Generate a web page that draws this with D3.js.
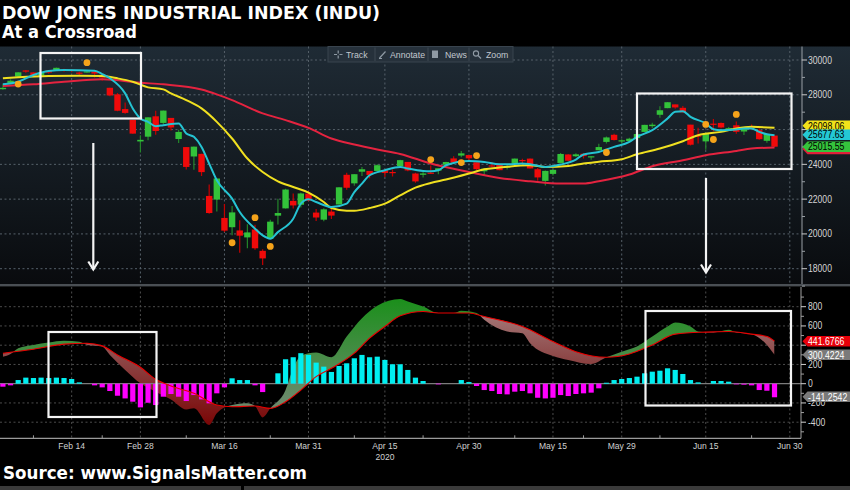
<!DOCTYPE html>
<html><head><meta charset="utf-8">
<script src="https://cdn.jsdelivr.net/npm/d3@7"></script>
<style>
html,body{margin:0;padding:0;background:#000;}
svg{display:block;}
</style></head>
<body>
<svg id="chart" width="850" height="490"></svg>
<script>
// ---------------- DATA ----------------
const dates = ["2/3","2/4","2/5","2/6","2/7","2/10","2/11","2/12","2/13","2/14","2/18","2/19","2/20","2/21","2/24","2/25","2/26","2/27","2/28",
"3/2","3/3","3/4","3/5","3/6","3/9","3/10","3/11","3/12","3/13","3/16","3/17","3/18","3/19","3/20","3/23","3/24","3/25","3/26","3/27","3/30","3/31",
"4/1","4/2","4/3","4/6","4/7","4/8","4/9","4/13","4/14","4/15","4/16","4/17","4/20","4/21","4/22","4/23","4/24","4/27","4/28","4/29","4/30",
"5/1","5/4","5/5","5/6","5/7","5/8","5/11","5/12","5/13","5/14","5/15","5/18","5/19","5/20","5/21","5/22","5/26","5/27","5/28","5/29",
"6/1","6/2","6/3","6/4","6/5","6/8","6/9","6/10","6/11","6/12","6/15","6/16","6/17","6/18","6/19","6/22","6/23","6/24","6/25","6/26"];
const extraAxisDates = ["6/29","6/30"];

const open = [28320,28660,29048,29400,29286,29095,29390,29406,29440,29440,29277,29279,29331,29149,28402,28025,27178,26553,25317,
25590,26763,26383,26671,25457,24992,24453,24604,22184,21973,20918,20385,20200,19800,20254,19028,19722,21050,21468,21899,21678,22320,
21227,20819,21285,21693,23399,22907,23577,23622,23620,23663,23560,23898,24140,23473,23400,23522,23640,23975,24341,24505,24535,
24121,23600,23940,23990,23850,24047,24250,24330,23720,23049,23452,24080,24569,24465,24610,24443,24810,25290,25700,25343,
25342,25512,25865,26197,26850,27232,27447,27251,26283,25659,25320,26340,26380,26022,26247,25888,26200,25965,25352,25654];
const high = [28630,28890,29310,29410,29290,29280,29415,29570,29490,29460,29330,29410,29370,29150,28402,28105,27560,26555,25680,
26706,27084,27102,26671,25995,24992,25020,24604,22838,23186,21725,21601,20780,20554,20531,19122,20814,22020,22596,22328,22378,22452,
21428,21477,21447,22680,23511,23434,23847,23622,24003,23663,23701,24264,24140,23511,23570,23935,23789,24154,24465,24765,24535,
24121,23759,24142,24021,23956,24335,24322,24330,23794,23640,23702,24659,24580,24636,24620,24467,25191,25600,25759,25444,
25530,25800,26270,26391,27339,27580,27447,27355,26283,26105,25826,26611,26400,26150,26468,26031,26291,26068,25762,25654];
const low = [28290,28630,29000,29260,29056,28990,29210,29406,29320,29300,29120,29270,29000,28800,27920,27058,26915,25766,24681,
25390,25707,26286,25943,25226,23707,23690,23328,21154,21286,20116,19921,18917,19178,19094,18214,19722,20538,21468,21455,21523,21878,
20736,20735,20863,21693,22543,22764,23332,23195,23620,23273,23298,23898,23599,22942,23237,23441,23426,23975,24094,24404,24206,
23644,23360,23834,23654,23701,24047,24074,23759,23053,22790,23360,24080,24198,24424,24341,24264,24810,25200,25368,25194,
25342,25447,25865,26088,26685,27232,27193,26972,25082,25193,24843,25905,26080,25918,25763,25687,26003,25416,25245,25001];
const close = [28400,28808,29291,29380,29103,29277,29276,29551,29423,29398,29232,29348,29220,28992,27961,27081,26958,25767,25409,
26703,25917,27091,26121,25865,23851,25018,23553,21201,23186,20189,21237,19899,20087,19174,18592,20705,21201,22552,21637,22327,21917,
20944,21413,21053,22680,22654,23434,23719,23391,23950,23504,23538,24242,23650,23019,23476,23515,23775,24134,24102,24634,24346,
23724,23750,23883,23665,23876,24331,24222,23765,23248,23625,23685,24597,24207,24576,24474,24465,24995,25548,25401,25383,
25475,25743,26270,26282,27111,27572,27272,26990,25128,25606,25763,26290,26120,26080,25871,26025,26156,25446,25746,25016];

// moving averages (cyan = 5d, yellow = 20d, red = 50d)
const ma5 = [["2/3",28599],["2/5",28749],["2/7",29135],["2/11",29366],["2/13",29424],["2/20",29383],["2/21",29193],["2/24",28950],["2/26",28081],["2/27",27216],["2/28",26640],["3/2",26444],["3/3",26196],["3/4",26253],["3/6",26351],["3/9",25775],["3/10",25580],["3/11",25003],["3/12",24046],["3/13",23083],["3/17",22029],["3/18",21256],["3/20",20300],["3/23",19913],["3/24",19723],["3/25",20103],["3/27",20876],["3/30",21740],["3/31",21988],["4/1",21832],["4/3",21544],["4/7",21740],["4/8",22409],["4/9",22893],["4/13",23371],["4/15",23660],["4/17",23850],["4/20",23758],["4/22",23619],["4/23",23602],["4/24",23660],["4/27",23948],["4/30",24196],["5/4",24138],["5/6",24006],["5/7",24006],["5/11",24046],["5/12",24006],["5/14",23850],["5/18",23988],["5/20",24276],["5/21",24565],["5/26",24714],["5/28",25003],["6/1",25291],["6/2",25579],["6/4",25965],["6/8",26640],["6/9",27020],["6/10",27060],["6/11",26732],["6/15",26351],["6/16",26023],["6/17",25965],["6/19",26006],["6/22",26063],["6/23",26063],["6/24",25867],["6/25",25735],["6/26",25678]];
const ma20 = [["2/3",28945],["2/5",29003],["2/11",29078],["2/18",29095],["2/21",29078],["2/25",28945],["2/27",28749],["3/2",28426],["3/4",28311],["3/5",28081],["3/9",27694],["3/11",27216],["3/13",26444],["3/17",25487],["3/19",24334],["3/23",23562],["3/25",23026],["3/27",22697],["3/31",22374],["4/2",21832],["4/3",21487],["4/7",21337],["4/8",21337],["4/13",21487],["4/15",21740],["4/17",22219],["4/21",22663],["4/23",22928],["4/27",23124],["4/30",23470],["5/4",23717],["5/6",23815],["5/12",23948],["5/14",23850],["5/19",23907],["5/21",24046],["5/26",24150],["5/29",24294],["6/2",24582],["6/5",24910],["6/10",25331],["6/12",25677],["6/17",25867],["6/19",26063],["6/23",26155],["6/26",26098]];
const ma50 = [["2/3",28501],["2/7",28599],["2/13",28749],["2/21",28888],["2/28",28692],["3/4",28599],["3/11",28300],["3/13",28023],["3/17",27694],["3/23",26928],["3/26",26542],["3/31",26098],["4/3",25487],["4/8",25141],["4/14",24853],["4/17",24599],["4/23",24046],["4/30",23562],["5/6",23216],["5/12",23026],["5/18",22893],["5/21",22893],["5/26",23026],["6/1",23412],["6/4",23890],["6/10",24236],["6/15",24524],["6/19",24772],["6/23",24910],["6/26",24968]];
const signalDots = [["2/5",28617],["2/19",29844],["3/17",19493],["3/20",20934],["3/24",19280],["4/23",24277],["4/29",24104],["5/1",24507],["5/27",24680],["6/15",26294],["6/16",25430],["6/19",26870]];

// MACD panel
const macdLine = [["2/3",281],["2/4",309],["2/5",369],["2/7",403],["2/11",427],["2/13",445],["2/18",435],["2/19",403],["2/21",386],["2/24",299],["2/26",143],["2/28",4],["3/3",-83],["3/5",-163],["3/9",-267],["3/10",-256],["3/12",-430],["3/13",-308],["3/17",-222],["3/19",-204],["3/20",-232],["3/23",-350],["3/24",-256],["3/26",-66],["3/27",160],["3/30",289],["4/1",323],["4/3",275],["4/7",490],["4/9",681],["4/14",810],["4/17",879],["4/20",854],["4/22",802],["4/24",734],["4/28",734],["4/29",758],["5/1",734],["5/4",664],["5/7",542],["5/11",525],["5/12",421],["5/15",289],["5/19",247],["5/22",205],["5/27",275],["5/29",333],["6/2",386],["6/4",490],["6/8",594],["6/9",636],["6/11",594],["6/12",542],["6/16",531],["6/18",560],["6/19",531],["6/23",515],["6/25",403],["6/26",300]];
const signalLine = [["2/3",317],["2/7",358],["2/13",411],["2/19",421],["2/21",393],["2/25",299],["2/28",171],["3/3",46],["3/5",-24],["3/10",-100],["3/13",-222],["3/17",-240],["3/20",-232],["3/24",-256],["3/26",-188],["3/30",-66],["4/1",73],["4/3",160],["4/8",317],["4/13",473],["4/15",594],["4/17",705],["4/22",750],["4/24",734],["4/30",734],["5/4",698],["5/11",594],["5/15",438],["5/20",333],["5/27",275],["6/1",309],["6/4",403],["6/9",515],["6/15",536],["6/18",542],["6/23",515],["6/25",490],["6/26",442]];
const histogram = [-31,-17,38,63,59,63,59,63,59,49,14,0,-17,-38,-76,-125,-153,-187,-246,-198,-222,-135,-107,-135,-180,-118,-163,-204,-100,-38,
56,38,38,-17,-87,0,108,254,275,317,299,219,177,122,184,212,264,299,275,281,247,202,202,143,63,28,0,-7,0,0,38,17,
-24,-66,-76,-107,-111,-83,-76,-100,-146,-153,-146,-118,-128,-107,-100,-93,-48,10,38,49,59,73,108,125,135,160,143,101,38,14,0,28,28,21,-7,-10,-17,-66,-73,-141];

const priceTicks = [18000,20000,22000,24000,26000,28000,30000];
const priceMinor = [17000,19000,21000,23000,25000,27000,29000];
const macdTicks = [-400,-200,0,200,400,600,800];
const macdTickLabels = ["-400","-200","0","200","","600","800"];
const dateTicks = ["2/14","2/28","3/16","3/31","4/15","4/30","5/15","5/29","6/15","6/30"];
const dateTickLabels = ["Feb 14","Feb 28","Mar 16","Mar 31","Apr 15","Apr 30","May 15","May 29","Jun 15","Jun 30"];
const minorDateTicks = ["2/7","2/21","3/9","3/24","4/8","4/22","5/8","5/21","6/5","6/23"];
const priceLabels = [{v:26098.06, t:"26098.06", fill:"#f2e21a", color:"#000", dy:-2},
                     {v:24968, t:"", fill:"#e0203a", color:"#000", dy:1.5},
                     {v:25677.63, t:"25677.63", fill:"#24c8d4", color:"#000", dy:-0.5},
                     {v:25015.55, t:"25015.55", fill:"#35c43c", color:"#000", dy:0}];
const macdLabels = [{v:441.6766, t:"441.6766", fill:"#e8000a"},
                    {v:300.4224, t:"300.4224", fill:"#7a7a7a"},
                    {v:-141.2542, t:"-141.2542", fill:"#7a7a7a"}];

// ---------------- SETUP ----------------
const svg = d3.select("#chart");
const W = 850, H = 490;
const axisX = 802;
const topY0 = 46.5, topY1 = 284;
const botY0 = 287, botY1 = 438.3;
const FONT = "Liberation Sans, Arial, sans-serif";

const x = d3.scalePoint().domain(dates.concat(extraAxisDates)).range([2.9, 789.8]);
const y = d3.scaleLinear().domain([18000, 30000]).range([268.7, 60]);
const ym = d3.scaleLinear().domain([-400, 800]).range([422.2, 306.7]);

// narrow the Bloomberg-style labels a little
function narrow(sel, f){
  sel.each(function(){
    const w = this.getComputedTextLength();
    if (w > 0) d3.select(this).attr("textLength", w*f).attr("lengthAdjust","spacingAndGlyphs");
  });
}

const defs = svg.append("defs");
const bg = defs.append("linearGradient").attr("id","bgTop").attr("x1",0).attr("y1",0).attr("x2",0).attr("y2",1);
bg.append("stop").attr("offset","0%").attr("stop-color","#1f2b35");
bg.append("stop").attr("offset","100%").attr("stop-color","#090b0e");
const gG = defs.append("linearGradient").attr("id","gGreen").attr("gradientUnits","userSpaceOnUse")
  .attr("x1",0).attr("y1",300).attr("x2",0).attr("y2",400);
gG.append("stop").attr("offset","0%").attr("stop-color","#1c8f1c");
gG.append("stop").attr("offset","100%").attr("stop-color","#6a8a6a");
const gR = defs.append("linearGradient").attr("id","gRed").attr("gradientUnits","userSpaceOnUse")
  .attr("x1",0).attr("y1",305).attr("x2",0).attr("y2",425);
gR.append("stop").attr("offset","0%").attr("stop-color","#a88080");
gR.append("stop").attr("offset","45%").attr("stop-color","#8c4646");
gR.append("stop").attr("offset","100%").attr("stop-color","#7a0606");

defs.append("clipPath").attr("id","clipTop").append("rect")
  .attr("x",0).attr("y",topY0).attr("width",axisX).attr("height",topY1-topY0);
defs.append("clipPath").attr("id","clipBot").append("rect")
  .attr("x",0).attr("y",botY0).attr("width",axisX-1).attr("height",botY1-botY0);

// background
svg.append("rect").attr("width",W).attr("height",H).attr("fill","#000");
svg.append("rect").attr("x",0).attr("y",topY0).attr("width",W).attr("height",topY1-topY0).attr("fill","url(#bgTop)");
svg.append("rect").attr("x",0).attr("y",topY1).attr("width",W).attr("height",2.4).attr("fill","#4a4f54");

// ---------------- GRID ----------------
const gridC = "#56616a";
const gTop = svg.append("g");
gTop.selectAll("line.h").data(priceTicks).join("line")
  .attr("x1",0).attr("x2",axisX).attr("y1",d=>y(d)).attr("y2",d=>y(d))
  .attr("stroke",gridC).attr("stroke-dasharray","2,2.5");
gTop.selectAll("line.v").data(dateTicks).join("line")
  .attr("x1",d=>x(d)).attr("x2",d=>x(d)).attr("y1",topY0).attr("y2",topY1)
  .attr("stroke",gridC).attr("stroke-dasharray","2,2.5");

const gBotGrid = svg.append("g");
gBotGrid.selectAll("line.h").data(macdTicks.filter(v=>v!==0)).join("line")
  .attr("x1",0).attr("x2",axisX-1).attr("y1",d=>ym(d)).attr("y2",d=>ym(d))
  .attr("stroke","#4c4c4c").attr("stroke-dasharray","2,2.5");
gBotGrid.selectAll("line.v").data(dateTicks).join("line")
  .attr("x1",d=>x(d)).attr("x2",d=>x(d)).attr("y1",botY0).attr("y2",botY1)
  .attr("stroke","#4c4c4c").attr("stroke-dasharray","2,2.5");

// ---------------- TOP PANEL ----------------
const plot = svg.append("g").attr("clip-path","url(#clipTop)");
const ohlc = dates.map((d,i)=>({d, o:open[i], h:high[i], l:low[i], c:close[i]}));
const up = "#33c23a", dn = "#f00a0a";
plot.selectAll("line.wick").data(ohlc).join("line")
  .attr("x1",d=>x(d.d)).attr("x2",d=>x(d.d))
  .attr("y1",d=>y(d.h)).attr("y2",d=>y(d.l))
  .attr("stroke",d=>d.c>=d.o?"#23862a":"#c40000").attr("stroke-width",1.2);
plot.selectAll("rect.body").data(ohlc).join("rect")
  .attr("x",d=>x(d.d)-3.2).attr("width",6.4)
  .attr("y",d=>y(Math.max(d.o,d.c)))
  .attr("height",d=>Math.max(1.2, Math.abs(y(d.o)-y(d.c))))
  .attr("fill",d=>d.c>=d.o?up:dn);

const line = d3.line().x(d=>x(d[0])).y(d=>y(d[1])).curve(d3.curveMonotoneX);
plot.append("path").attr("d",line(ma50)).attr("fill","none").attr("stroke","#e4233f").attr("stroke-width",2);
plot.append("path").attr("d",line(ma20)).attr("fill","none").attr("stroke","#f0e020").attr("stroke-width",2);
plot.append("path").attr("d",line(ma5)).attr("fill","none").attr("stroke","#25c3d2").attr("stroke-width",2);
plot.selectAll("circle.sig").data(signalDots).join("circle")
  .attr("cx",d=>x(d[0])).attr("cy",d=>y(d[1])).attr("r",3.4).attr("fill","#f5a31a");

// right axis (top)
svg.append("line").attr("x1",axisX).attr("x2",axisX).attr("y1",topY0).attr("y2",topY1).attr("stroke","#9aa0a6");
svg.selectAll("line.ptick").data(priceTicks).join("line")
  .attr("x1",axisX).attr("x2",axisX+5).attr("y1",d=>y(d)).attr("y2",d=>y(d)).attr("stroke","#c8c8c8");
svg.selectAll("line.pminor").data(priceMinor).join("line")
  .attr("x1",axisX).attr("x2",axisX+3).attr("y1",d=>y(d)).attr("y2",d=>y(d)).attr("stroke","#9aa0a6");
svg.selectAll("text.plab").data(priceTicks).join("text")
  .attr("x",axisX+6).attr("y",d=>y(d)).attr("dy","0.35em")
  .attr("font-family",FONT).attr("font-size",10)
  .attr("fill","#d4d4d4").text(d=>d).call(narrow, 0.86);

function tagPath(cy, h){
  const x0 = axisX+0.5, x1 = axisX+5.5, x2 = W+2;
  return `M${x0},${cy} L${x1},${cy-h/2} L${x2},${cy-h/2} L${x2},${cy+h/2} L${x1},${cy+h/2} Z`;
}
const tagG = svg.append("g");
priceLabels.forEach(p=>{
  const cy = y(p.v)+p.dy;
  tagG.append("path").attr("d",tagPath(cy,10.5)).attr("fill",p.fill);
  if(p.t) tagG.append("text").attr("x",axisX+6).attr("y",cy).attr("dy","0.36em")
    .attr("font-family",FONT).attr("font-size",10.5)
    .attr("fill",p.color).text(p.t).call(narrow, 0.83);
});

// ---------------- BOTTOM PANEL (MACD) ----------------
const bot = svg.append("g").attr("clip-path","url(#clipBot)");
const areaAboveSig = d3.area().x(d=>x(d[0])).y0(botY0).y1(d=>ym(d[1])).curve(d3.curveMonotoneX);
const areaBelowSig = d3.area().x(d=>x(d[0])).y0(d=>ym(d[1])).y1(botY1).curve(d3.curveMonotoneX);
defs.append("clipPath").attr("id","clipAboveSig").append("path").attr("d",areaAboveSig(signalLine));
defs.append("clipPath").attr("id","clipBelowSig").append("path").attr("d",areaBelowSig(signalLine));
const belowMacd = d3.area().x(d=>x(d[0])).y0(botY1).y1(d=>ym(d[1])).curve(d3.curveMonotoneX);
const aboveMacd = d3.area().x(d=>x(d[0])).y0(botY0).y1(d=>ym(d[1])).curve(d3.curveMonotoneX);
bot.append("g").attr("clip-path","url(#clipAboveSig)").append("path")
  .attr("d",belowMacd(macdLine)).attr("fill","url(#gGreen)");
bot.append("g").attr("clip-path","url(#clipBelowSig)").append("path")
  .attr("d",aboveMacd(macdLine)).attr("fill","url(#gRed)");

bot.append("line").attr("x1",0).attr("x2",axisX).attr("y1",ym(0)).attr("y2",ym(0)).attr("stroke","#7c7c7c").attr("stroke-width",1.3);
bot.selectAll("rect.hist").data(dates.map((d,i)=>[d,histogram[i]]).filter(d=>d[1]!==0)).join("rect")
  .attr("x",d=>x(d[0])-2.6).attr("width",5.2)
  .attr("y",d=>Math.min(ym(d[1]),ym(0)))
  .attr("height",d=>Math.abs(ym(d[1])-ym(0)))
  .attr("fill",d=>d[1]>0?"#00eef0":"#ff00ff");
const mline = d3.line().x(d=>x(d[0])).y(d=>ym(d[1])).curve(d3.curveMonotoneX);
bot.append("path").attr("d",mline(signalLine)).attr("fill","none").attr("stroke","#e80000").attr("stroke-width",1.1);

// right axis (bottom)
svg.append("line").attr("x1",axisX-1).attr("x2",axisX-1).attr("y1",botY0).attr("y2",botY1).attr("stroke","#a0a0a0");
const macdMinor = d3.range(-500, 1000, 100).filter(v=>v%200!==0);
svg.selectAll("line.mminor").data(macdMinor).join("line")
  .attr("x1",axisX-1).attr("x2",axisX+2).attr("y1",d=>ym(d)).attr("y2",d=>ym(d)).attr("stroke","#a0a0a0");
svg.selectAll("line.mtick").data(macdTicks).join("line")
  .attr("x1",axisX-1).attr("x2",axisX+4).attr("y1",d=>ym(d)).attr("y2",d=>ym(d)).attr("stroke","#d0d0d0");
svg.selectAll("text.mlab").data(macdTicks.map((v,i)=>[v,macdTickLabels[i]]).filter(d=>d[1])).join("text")
  .attr("x",axisX+6).attr("y",d=>ym(d[0])).attr("dy","0.35em")
  .attr("font-family",FONT).attr("font-size",10)
  .attr("fill","#d4d4d4").text(d=>d[1]).call(narrow, 0.86);
const mtagOff = [0, 0, -0.5];
macdLabels.forEach((p,i)=>{
  const cy = ym(p.v)+mtagOff[i];
  svg.append("path").attr("d",tagPath(cy,10.5)).attr("fill",p.fill);
  svg.append("text").attr("x",axisX+6).attr("y",cy).attr("dy","0.36em")
    .attr("font-family",FONT).attr("font-size",10.5)
    .attr("fill","#fff").text(p.t).call(narrow, 0.83);
});

// x axis
svg.append("line").attr("x1",0).attr("x2",axisX-1).attr("y1",botY1).attr("y2",botY1).attr("stroke","#9a9a9a").attr("stroke-width",1.2);
svg.selectAll("line.xminor").data(minorDateTicks).join("line")
  .attr("x1",d=>x(d)).attr("x2",d=>x(d)).attr("y1",botY1-3).attr("y2",botY1).attr("stroke","#9a9a9a");
svg.selectAll("text.xlab").data(dateTicks).join("text")
  .attr("x",d=>x(d)).attr("y",448.5).attr("text-anchor","middle")
  .attr("font-family",FONT).attr("font-size",9.5)
  .attr("fill","#d0d0d0").text((d,i)=>dateTickLabels[i]).call(narrow, 0.9);
svg.append("text").attr("x",x("4/15")).attr("y",459.5).attr("text-anchor","middle")
  .attr("font-family",FONT).attr("font-size",9.5)
  .attr("fill","#d0d0d0").text("2020").call(narrow, 0.9);

// ---------------- ANNOTATIONS ----------------
const ann = svg.append("g").attr("fill","none").attr("stroke","#f4f4f4").attr("stroke-width",2.2);
ann.append("rect").attr("x",40.5).attr("y",53).attr("width",100.5).attr("height",65.5);
ann.append("rect").attr("x",637).attr("y",93.5).attr("width",154.5).attr("height",75.5);
ann.append("rect").attr("x",48.5).attr("y",332).attr("width",108).attr("height",85);
ann.append("rect").attr("x",645.5).attr("y",311).attr("width",145.5).attr("height",94.5);
function arrow(ax, ya, yb){
  ann.append("line").attr("x1",ax).attr("x2",ax).attr("y1",ya).attr("y2",yb);
  ann.append("path").attr("d",`M${ax-5},${yb-8} L${ax},${yb} L${ax+5},${yb-8}`);
}
arrow(93.3, 143, 269.5);
arrow(706, 178, 272.5);

// ---------------- TOOLBAR ----------------
const tb = svg.append("g");
tb.append("rect").attr("x",328).attr("y",46.5).attr("width",185).attr("height",15.5).attr("fill","#26313b").attr("stroke","#39444e");
[375,428,469].forEach(sx=>tb.append("line").attr("x1",sx).attr("x2",sx).attr("y1",47.5).attr("y2",61).attr("stroke","#3d4852"));
const ic = "#8f9aa4";
tb.append("path").attr("d","M334,54.5 L337,54.5 M339.5,54.5 L342.5,54.5 M338.2,50.5 L338.2,53.5 M338.2,55.5 L338.2,58.5").attr("stroke",ic).attr("stroke-width",1.2);
tb.append("path").attr("d","M379.5,58 L385.5,51.5 M379,58.5 L382,58.5").attr("stroke",ic).attr("stroke-width",1.2);
tb.append("rect").attr("x",432).attr("y",50.5).attr("width",6).attr("height",7.5).attr("fill",ic);
tb.append("circle").attr("cx",476).attr("cy",53.5).attr("r",2.6).attr("fill","none").attr("stroke",ic).attr("stroke-width",1.1);
tb.append("line").attr("x1",478).attr("y1",55.5).attr("x2",481).attr("y2",58.5).attr("stroke",ic).attr("stroke-width",1.2);
[["Track",346],["Annotate",390],["News",445],["Zoom",486]].forEach(t=>{
  tb.append("text").attr("x",t[1]).attr("y",58).attr("font-family",FONT)
    .attr("font-size",9.5).attr("fill","#c2c8ce").text(t[0]).call(narrow, 0.92);
});

// ---------------- TITLES ----------------
svg.append("text").attr("x",2).attr("y",18.5).attr("font-family","DejaVu Sans, Verdana, sans-serif")
  .attr("font-weight","bold").attr("font-size",18).attr("fill","#fff")
  .attr("textLength",378).attr("lengthAdjust","spacingAndGlyphs").text("DOW JONES INDUSTRIAL INDEX (INDU)");
svg.append("text").attr("x",2).attr("y",38.3).attr("font-family","DejaVu Sans, Verdana, sans-serif")
  .attr("font-weight","bold").attr("font-size",17.5).attr("fill","#fff")
  .attr("textLength",135).attr("lengthAdjust","spacingAndGlyphs").text("At a Crossroad");
svg.append("text").attr("x",3).attr("y",479).attr("font-family","DejaVu Sans, Verdana, sans-serif")
  .attr("font-weight","bold").attr("font-size",17.5).attr("fill","#fff")
  .attr("textLength",304).attr("lengthAdjust","spacingAndGlyphs").text("Source: www.SignalsMatter.com");
svg.append("rect").attr("x",0).attr("y",486).attr("width",241).attr("height",4).attr("fill","#3a3a3a");
svg.append("rect").attr("x",244).attr("y",486).attr("width",606).attr("height",4).attr("fill","#3a3a3a");
</script>
</body></html>
